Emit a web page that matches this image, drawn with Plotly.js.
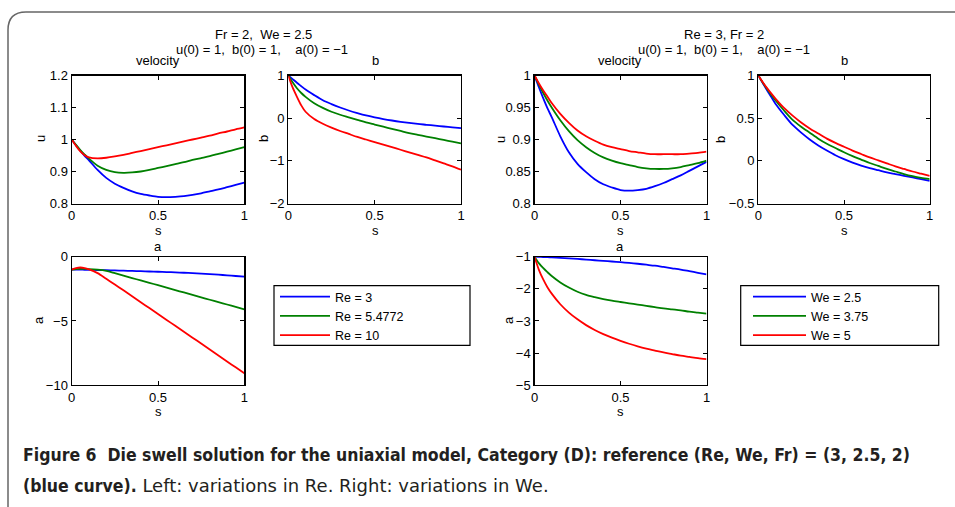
<!DOCTYPE html>
<html><head><meta charset="utf-8">
<script src="https://cdn.plot.ly/plotly-3.0.1.min.js"></script>
<style>html,body{margin:0;padding:0;background:#fff;} #chart{width:955px;height:507px;}</style>
</head><body><div id="chart"></div>
<script>
// ---------- DATA ----------
const s = [0,0.025,0.05,0.075,0.1,0.15,0.2,0.25,0.3,0.35,0.4,0.45,0.5,0.55,0.6,0.65,0.7,0.75,0.8,0.85,0.9,0.95,1];

// reference case (Re, We, Fr) = (3, 2.5, 2)  -- blue
const uRef = [1.0,0.982,0.965,0.949,0.935,0.905,0.880,0.862,0.849,0.838,0.830,0.825,0.821,0.820,0.821,0.823,0.827,0.832,0.838,0.844,0.851,0.858,0.865];
const bRef = [1.0,0.915,0.83,0.75,0.67,0.54,0.42,0.33,0.25,0.18,0.12,0.065,0.02,-0.02,-0.055,-0.085,-0.11,-0.135,-0.155,-0.175,-0.195,-0.215,-0.235];
const aRef = [-1.0,-1.005,-1.01,-1.015,-1.02,-1.035,-1.05,-1.07,-1.09,-1.11,-1.13,-1.15,-1.17,-1.195,-1.22,-1.25,-1.28,-1.32,-1.36,-1.40,-1.45,-1.50,-1.55];

// variations in Re (Fr = 2, We = 2.5)
const uRe5 = [1.0,0.983,0.967,0.953,0.940,0.918,0.905,0.898,0.896,0.897,0.900,0.905,0.911,0.917,0.923,0.929,0.936,0.942,0.948,0.955,0.962,0.969,0.976];
const uRe10 = [1.0,0.980,0.963,0.951,0.944,0.941,0.943,0.947,0.952,0.958,0.964,0.970,0.976,0.982,0.988,0.994,1.000,1.006,1.012,1.019,1.025,1.032,1.038];
const bRe5 = [1.0,0.84,0.70,0.59,0.50,0.35,0.24,0.15,0.08,0.02,-0.04,-0.10,-0.15,-0.20,-0.25,-0.30,-0.35,-0.39,-0.43,-0.47,-0.51,-0.55,-0.59];
const bRe10 = [1.0,0.72,0.50,0.30,0.15,-0.02,-0.13,-0.22,-0.30,-0.37,-0.44,-0.50,-0.56,-0.62,-0.68,-0.74,-0.80,-0.86,-0.92,-0.99,-1.06,-1.13,-1.21];
const aRe5 = [-1.0,-0.97,-0.95,-0.95,-0.96,-1.01,-1.10,-1.28,-1.47,-1.66,-1.85,-2.03,-2.22,-2.41,-2.60,-2.78,-2.97,-3.16,-3.35,-3.53,-3.72,-3.91,-4.10];
const aRe10 = [-1.0,-0.88,-0.84,-0.88,-0.98,-1.28,-1.72,-2.17,-2.62,-3.08,-3.54,-4.0,-4.46,-4.92,-5.38,-5.84,-6.30,-6.76,-7.22,-7.68,-8.15,-8.61,-9.07];

// variations in We (Re = 3, Fr = 2)
const uWe375 = [1.0,0.986,0.973,0.961,0.950,0.930,0.913,0.899,0.888,0.879,0.872,0.867,0.863,0.860,0.857,0.855,0.854,0.854,0.855,0.857,0.860,0.863,0.867];
const uWe5 = [1.0,0.988,0.977,0.967,0.957,0.940,0.926,0.914,0.905,0.898,0.892,0.888,0.885,0.882,0.880,0.878,0.877,0.877,0.877,0.877,0.878,0.879,0.881];
const bWe375 = [1.0,0.92,0.845,0.775,0.71,0.59,0.48,0.40,0.33,0.26,0.20,0.15,0.10,0.055,0.015,-0.025,-0.06,-0.095,-0.125,-0.155,-0.18,-0.20,-0.215];
const bWe5 = [1.0,0.925,0.855,0.79,0.73,0.62,0.53,0.45,0.38,0.32,0.26,0.21,0.165,0.12,0.08,0.04,0.005,-0.03,-0.065,-0.095,-0.125,-0.15,-0.175];
const aWe375 = [-1.0,-1.2,-1.35,-1.48,-1.60,-1.80,-1.96,-2.09,-2.19,-2.26,-2.32,-2.37,-2.41,-2.45,-2.49,-2.53,-2.57,-2.61,-2.64,-2.67,-2.71,-2.74,-2.77];
const aWe5 = [-1.0,-1.4,-1.7,-1.95,-2.15,-2.48,-2.74,-2.95,-3.13,-3.28,-3.41,-3.52,-3.62,-3.71,-3.79,-3.86,-3.92,-3.98,-4.03,-4.08,-4.12,-4.16,-4.19];

const reNames = ['Re = 3','Re = 5.4772','Re = 10'];
const weNames = ['We = 2.5','We = 3.75','We = 5'];

// tick labels
const sTicks = [0,0.5,1], sText = ['0','0.5','1'];
const uReTicks = [0.8,0.9,1,1.1,1.2], uReText = ['0.8','0.9','1','1.1','1.2'];
const bReTicks = [-2,-1,0,1], bReText = ['\u22122','\u22121','0','1'];
const aReTicks = [-10,-5,0], aReText = ['\u221210','\u22125','0'];
const uWeTicks = [0.8,0.85,0.9,0.95,1], uWeText = ['0.8','0.85','0.9','0.95','1'];
const bWeTicks = [-0.5,0,0.5,1], bWeText = ['\u22120.5','0','0.5','1'];
const aWeTicks = [-5,-4,-3,-2,-1], aWeText = ['\u22125','\u22124','\u22123','\u22122','\u22121'];

// ---------- LAYOUT ----------
const W = 955, H = 507;
const fx = p => p / W, fy = p => 1 - p / H;
const colors = ['#0000ff', '#008000', '#ff0000'];
const FONT = 'Liberation Sans, Arial, Helvetica, sans-serif';

function axis(x0, x1, anchor, range, tv, tt) {
  return {domain: [fx(x0), fx(x1)], anchor: anchor, range: range, tickvals: tv, ticktext: tt,
    showline: true, linecolor: '#000', linewidth: 1.2, mirror: 'ticks', ticks: 'inside', ticklen: 4,
    tickwidth: 1, tickcolor: '#000', showgrid: false, zeroline: false, fixedrange: true,
    tickfont: {family: FONT, size: 13, color: '#000'}};
}
function yaxis(y0, y1, anchor, range, tv, tt) {
  const a = axis(0, 1, anchor, range, tv, tt);
  a.domain = [fy(y1), fy(y0)];
  return a;
}

const panels = [
  {x: 'x',  y: 'y',  ys: [uRef, uRe5, uRe10],   names: reNames, legend: 'legend',  show: true},
  {x: 'x2', y: 'y2', ys: [bRef, bRe5, bRe10],   names: reNames, legend: 'legend',  show: false},
  {x: 'x3', y: 'y3', ys: [uRef, uWe375, uWe5],  names: weNames, legend: 'legend2', show: true},
  {x: 'x4', y: 'y4', ys: [bRef, bWe375, bWe5],  names: weNames, legend: 'legend2', show: false},
  {x: 'x5', y: 'y5', ys: [aRef, aRe5, aRe10],   names: reNames, legend: 'legend',  show: false},
  {x: 'x6', y: 'y6', ys: [aRef, aWe375, aWe5],  names: weNames, legend: 'legend2', show: false}
];
const traces = [];
panels.forEach(p => p.ys.forEach((yv, i) => traces.push({
  type: 'scatter', mode: 'lines', x: s, y: yv, xaxis: p.x, yaxis: p.y, name: p.names[i],
  legend: p.legend, showlegend: p.show, line: {color: colors[i], width: 1.8, shape: 'spline', smoothing: 0.8},
  hoverinfo: 'skip'
})));

const top0 = 75.5, top1 = 203.5, bot0 = 256.7, bot1 = 385.2;
const legFont = {family: FONT, size: 12.5, color: '#000'};
const layout = {
  width: W, height: H, margin: {l: 0, r: 0, t: 0, b: 0},
  paper_bgcolor: '#fff', plot_bgcolor: '#fff',
  font: {family: FONT, size: 13, color: '#000'},
  xaxis:  axis(71.7, 244.3, 'y',  [0, 1], sTicks, sText),
  yaxis:  yaxis(top0, top1, 'x',  [0.8, 1.2], uReTicks, uReText),
  xaxis2: axis(288.3, 461, 'y2', [0, 1], sTicks, sText),
  yaxis2: yaxis(top0, top1, 'x2', [-2, 1], bReTicks, bReText),
  xaxis3: axis(534.5, 706.5, 'y3', [0, 1], sTicks, sText),
  yaxis3: yaxis(top0, top1, 'x3', [0.8, 1], uWeTicks, uWeText),
  xaxis4: axis(758.3, 929.7, 'y4', [0, 1], sTicks, sText),
  yaxis4: yaxis(top0, top1, 'x4', [-0.5, 1], bWeTicks, bWeText),
  xaxis5: axis(71.7, 244.3, 'y5', [0, 1], sTicks, sText),
  yaxis5: yaxis(bot0, bot1, 'x5', [-10, 0], aReTicks, aReText),
  xaxis6: axis(534.5, 706.5, 'y6', [0, 1], sTicks, sText),
  yaxis6: yaxis(bot0, bot1, 'x6', [-5, -1], aWeTicks, aWeText),
  legend:  {x: fx(275), y: fy(282), xanchor: 'left', yanchor: 'top', bgcolor: 'rgba(0,0,0,0)', borderwidth: 0,
            itemwidth: 50, font: legFont, itemclick: false, itemdoubleclick: false},
  legend2: {x: fx(748), y: fy(282), xanchor: 'left', yanchor: 'top', bgcolor: 'rgba(0,0,0,0)', borderwidth: 0,
            itemwidth: 53, font: legFont, itemclick: false, itemdoubleclick: false},
  showlegend: true,
  shapes: [
    {type: 'rect', xref: 'paper', yref: 'paper', x0: fx(274), x1: fx(470), y0: fy(345.3), y1: fy(285.7),
     line: {color: '#000', width: 1.2}},
    {type: 'rect', xref: 'paper', yref: 'paper', x0: fx(740.7), x1: fx(938.7), y0: fy(345.3), y1: fy(285.7),
     line: {color: '#000', width: 1.2}},
    {type: 'path', xref: 'paper', yref: 'paper', line: {color: '#666', width: 1.5},
     path: `M ${fx(8)},${fy(520)} L ${fx(8)},${fy(30)} Q ${fx(8)},${fy(12)} ${fx(26)},${fy(12)} L ${fx(980)},${fy(12)}`}
  ],
  annotations: []
};

function ann(text, px, py, opts) {
  layout.annotations.push(Object.assign({text: text, x: fx(px), y: fy(py), xref: 'paper', yref: 'paper',
    showarrow: false, xanchor: 'center', yanchor: 'middle', borderpad: 0,
    font: {family: FONT, size: 13, color: '#000'}}, opts || {}));
}
const NB = '\u00a0';
ann('Fr = 2,' + NB + NB + 'We = 2.5', 263, 34);
ann('u(0) = 1,' + NB + NB + 'b(0) = 1,' + NB + NB + NB + NB + 'a(0) = \u22121', 262, 49);
ann('Re = 3, Fr = 2', 724, 34);
ann('u(0) = 1,' + NB + NB + 'b(0) = 1,' + NB + NB + NB + NB + 'a(0) = \u22121', 724, 49);
ann('velocity', 158, 61); ann('b', 375, 61); ann('velocity', 620, 61); ann('b', 844, 61);
ann('a', 158, 246); ann('a', 620, 246);
ann('s', 158, 230.5); ann('s', 375, 230.5); ann('s', 620, 230.5); ann('s', 844, 230.5);
ann('s', 158, 411.5); ann('s', 620, 411.5);
ann('u', 40, 139, {textangle: -90}); ann('b', 263, 139, {textangle: -90});
ann('u', 500, 140, {textangle: -90}); ann('b', 720, 140, {textangle: -90});
ann('a', 38, 320, {textangle: -90}); ann('a', 508, 320, {textangle: -90});

const CAP = 'Liberation Sans Narrow, Arial Narrow, DejaVu Sans Condensed, Roboto Condensed, sans-serif';
const REG = 'font-family:DejaVu Sans;font-size:18px;font-weight:normal';
ann('<b>Figure 6' + NB + NB + 'Die swell solution for the uniaxial model, Category (D): reference (Re, We, Fr) = (3, 2.5, 2)</b>',
    22, 455, {xanchor: 'left', font: {family: CAP, size: 17.5, color: '#231f20'}});
ann('<b>(blue curve).</b><span style="' + REG + '"> Left: variations in Re. Right: variations in We.</span>',
    22, 485, {xanchor: 'left', font: {family: CAP, size: 17.5, color: '#231f20'}});

Plotly.newPlot('chart', traces, layout, {staticPlot: true, displayModeBar: false});
</script>
</body></html>
